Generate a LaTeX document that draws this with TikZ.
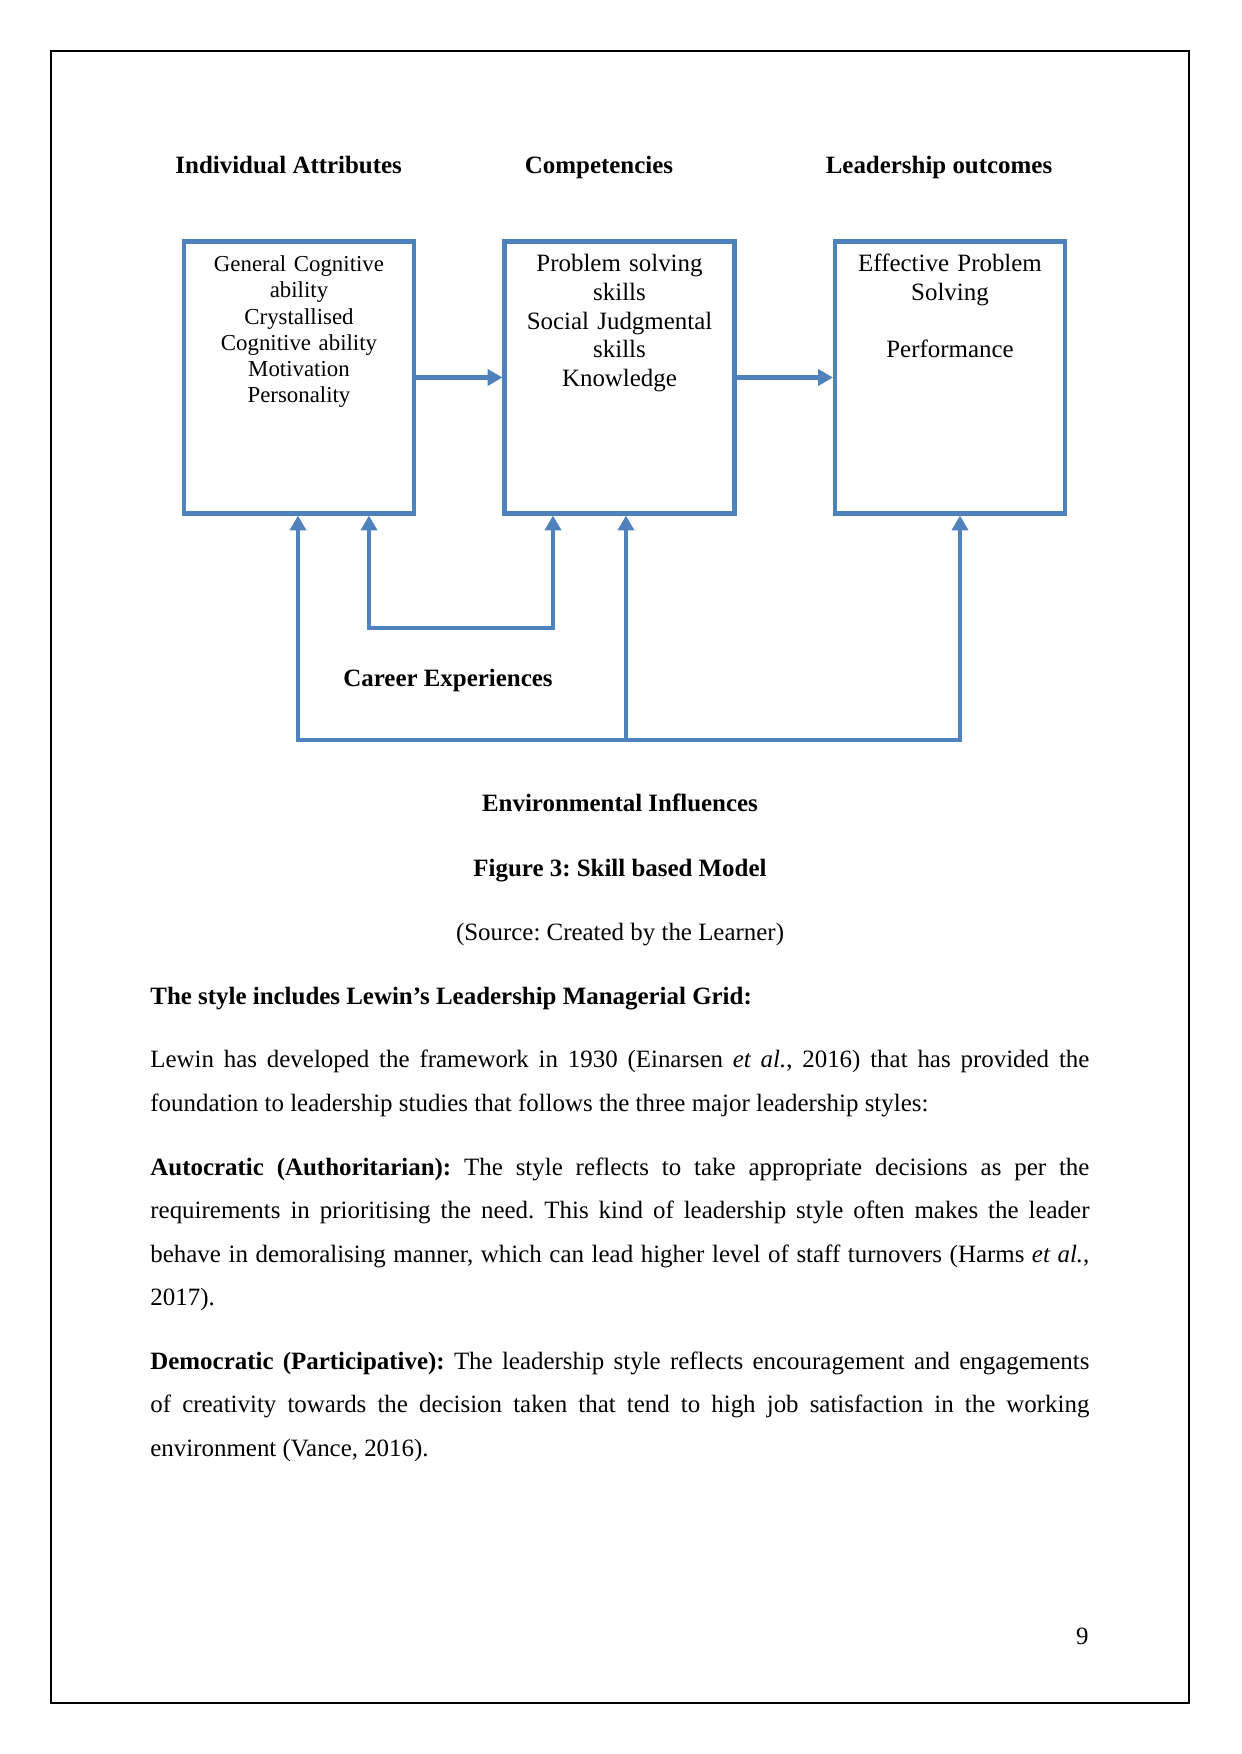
\documentclass[tikz,border=0pt]{standalone}
\usepackage{fontspec}
\setmainfont{Liberation Serif}
\usetikzlibrary{arrows.meta}
\definecolor{myblue}{RGB}{79,129,189}
\newcommand{\jline}[1]{\hbox to 158.9mm{#1}}
\frenchspacing
\begin{document}
\begin{tikzpicture}[x=0.16922mm,y=-0.16922mm,
  box/.style={draw=myblue, line width=0.7mm, minimum width=38.92mm, minimum height=46.03mm, inner sep=0pt},
  boxtext/.style={anchor=base, align=center, text width=37.5mm, inner sep=0pt},
  conn/.style={draw=myblue, line width=0.7mm},
  tipend/.style={-{Triangle[length=2.5mm,width=2.7mm]}},
  tipboth/.style={{Triangle[length=2.5mm,width=2.7mm]}-{Triangle[length=2.5mm,width=2.7mm]}},
  head/.style={anchor=base, inner sep=0pt, font=\fontsize{12}{13.8}\selectfont\bfseries\frenchspacing},
  plain/.style={anchor=base, inner sep=0pt, font=\fontsize{12}{13.8}\selectfont\frenchspacing},
  bodyline/.style={anchor=base west, inner sep=0pt, font=\fontsize{12}{13.8}\selectfont\frenchspacing}
]
\useasboundingbox (0,0) rectangle (1241,1754);
\draw[line width=0.6pt] (51,51) rectangle (1189,1703);

% headers
\node[head] (h1) at (288.7,173.5) {Individual Attributes};
\node[head] (h2) at (599,173.5) {Competencies};
\node[head] (h3) at (939,173.5) {Leadership outcomes};

% boxes
\node[box] (ia) at (299,377.5) {};
\node[box] (cp) at (619.5,377.5) {};
\node[box] (lo) at (950,377.5) {};

\node[boxtext, font=\fontsize{11}{12.65}\selectfont] (iat) at (299,271.5)
  {General Cognitive\\ability\\Crystallised\\Cognitive ability\\Motivation\\Personality};
\node[boxtext, font=\fontsize{12}{13.85}\selectfont] (cpt) at (619.5,271.5)
  {Problem solving\\skills\\Social Judgmental\\skills\\Knowledge};
\node[boxtext, font=\fontsize{12}{13.85}\selectfont] (lot) at (950,271.5)
  {Effective Problem\\Solving\\\mbox{}\\Performance};

% horizontal arrows
\draw[conn, tipend] (ia.east) -- (cp.west);
\draw[conn, tipend] (cp.east) -- (lo.west);

% career experiences loop
\coordinate (ce1) at (369,628);
\coordinate (ce2) at (553,628);
\draw[conn, tipboth] (ia.south -| ce1) -- (ce1) -- (ce2) -- (cp.south -| ce2);

% environmental influences
\coordinate (e1) at (298,740);
\coordinate (e2) at (626,740);
\coordinate (e3) at (960,740);
\draw[conn, tipboth] (ia.south -| e1) -- (e1) -- (e3) -- (lo.south -| e3);
\draw[conn, tipend] (e2) -- (cp.south -| e2);

\node[head] (cex) at (448,686) {Career Experiences};
\node[head] (env) at (620,811.5) {Environmental Influences};
\node[head] (fig) at (620,876.5) {Figure 3: Skill based Model};
\node[plain] (src) at (620,940) {(Source: Created by the Learner)};

% body text
\node[bodyline] (t0) at (150,1004) {\textbf{The style includes Lewin’s Leadership Managerial Grid:}};
\node[bodyline] (t1) at (150,1067.5) {\jline{Lewin has developed the framework in 1930 (Einarsen \textit{et al.}, 2016) that has provided the}};
\node[bodyline] (t2) at (150,1111) {foundation to leadership studies that follows the three major leadership styles:};
\node[bodyline] (t3) at (150,1175) {\jline{\textbf{Autocratic (Authoritarian):} The style reflects to take appropriate decisions as per the}};
\node[bodyline] (t4) at (150,1218.5) {\jline{requirements in prioritising the need. This kind of leadership style often makes the leader}};
\node[bodyline] (t5) at (150,1262) {\jline{behave in demoralising manner, which can lead higher level of staff turnovers (Harms \textit{et al.},}};
\node[bodyline] (t6) at (150,1305.5) {2017).};
\node[bodyline] (t7) at (150,1369) {\jline{\textbf{Democratic (Participative):} The leadership style reflects encouragement and engagements}};
\node[bodyline] (t8) at (150,1412.5) {\jline{of creativity towards the decision taken that tend to high job satisfaction in the working}};
\node[bodyline] (t9) at (150,1456) {environment (Vance, 2016).};

\node[plain, anchor=base east] (pg) at (1089,1644) {9};
\end{tikzpicture}
\end{document}
